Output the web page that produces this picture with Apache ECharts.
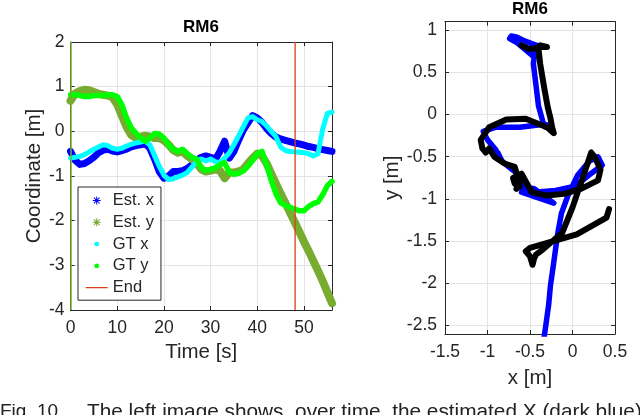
<!DOCTYPE html>
<html lang="en">
<head>
  <meta charset="UTF-8">
  <title>RM6</title>
  <style>
    html, body { margin: 0; padding: 0; background: #fff; }
    #chart { width: 640px; height: 415px; }
  </style>
</head>
<body>
  <div id="chart"></div>
  <script src="https://cdn.jsdelivr.net/npm/echarts@6/dist/echarts.min.js"></script>
  <script>
    // time samples [s]
    var time = [0, 1, 2, 3, 4, 5, 6, 7, 8, 9, 10, 11, 12, 13, 14, 15, 16, 17, 18, 19,
      20, 21, 22, 23, 24, 25, 26, 27, 28, 29, 30, 31, 32, 33, 34, 35, 36, 37, 38, 39,
      40, 41, 42, 43, 44, 45, 46, 47, 48, 49, 50, 51, 52, 53, 54, 55, 56];
    // estimated position [m]
    var estX = [-0.45, -0.65, -0.74, -0.72, -0.66, -0.58, -0.48, -0.42, -0.4, -0.44,
      -0.46, -0.43, -0.4, -0.35, -0.32, -0.3, -0.28, -0.38, -0.62, -0.9,
      -1.05, -1.0, -0.9, -0.9, -0.88, -0.83, -0.75, -0.65, -0.58, -0.55,
      -0.58, -0.63, -0.45, -0.22, -0.6, -0.45, -0.2, 0.03, 0.19, 0.35,
      0.3, 0.2, 0.06, -0.05, -0.13, -0.17, -0.2, -0.23, -0.26, -0.28,
      -0.31, -0.34, -0.36, -0.39, -0.41, -0.43, -0.45];
    var estY = [0.68, 0.85, 0.9, 0.93, 0.92, 0.88, 0.84, 0.82, 0.8, 0.76,
      0.6, 0.35, 0.1, -0.08, -0.15, -0.12, -0.1, -0.12, -0.15, -0.15,
      -0.2, -0.3, -0.42, -0.48, -0.45, -0.55, -0.62, -0.7, -0.85, -0.9,
      -0.88, -0.85, -0.88, -1.05, -0.92, -0.92, -0.9, -0.85, -0.72, -0.6,
      -0.5, -0.55, -0.72, -0.95, -1.17, -1.39, -1.6, -1.82, -2.03, -2.25,
      -2.47, -2.68, -2.9, -3.12, -3.35, -3.6, -3.85];
    // ground truth [m]
    var gtX = [-0.6, -0.58, -0.56, -0.52, -0.46, -0.4, -0.35, -0.3, -0.32, -0.38,
      -0.4, -0.38, -0.33, -0.29, -0.26, -0.24, -0.22, -0.3, -0.55, -0.78,
      -0.98, -1.08, -1.06, -1.02, -0.98, -0.92, -0.8, -0.68, -0.62, -0.66,
      -0.62, -0.68, -0.7, -0.6, -0.48, -0.3, -0.1, 0.1, 0.3, 0.33,
      0.26, 0.22, 0.12, 0.0, -0.12, -0.35, -0.43, -0.45, -0.46, -0.47,
      -0.48, -0.5, -0.55, -0.5, 0.05, 0.4, 0.43];
    var gtY = [0.82, 0.82, 0.8, 0.78, 0.78, 0.8, 0.8, 0.8, 0.82, 0.82,
      0.78, 0.6, 0.3, 0.08, -0.04, -0.15, -0.22, -0.15, -0.05, -0.06,
      -0.15, -0.3, -0.4, -0.45, -0.4, -0.5, -0.58, -0.62, -0.82, -0.88,
      -0.85, -0.82, -0.75, -0.7, -0.92, -0.96, -0.94, -0.88, -0.78, -0.65,
      -0.5, -0.45, -0.75, -1.1, -1.4, -1.6, -1.66, -1.7, -1.74, -1.78,
      -1.78, -1.68, -1.62, -1.58, -1.42, -1.22, -1.12];
    var endTime = 48.1;
    var startTime = 0;
    var seriesNames = ['Est. x', 'Est. y', 'GT x', 'GT y', 'End'];
    var captionLabel = 'Fig. 10.';
    var captionText = 'The left image shows, over time, the estimated X (dark blue)';

    var FONT = '"Liberation Sans", Arial, sans-serif';
    var INK = '#262626';

    function pairs(a, b) {
      return a.map(function (v, i) { return [v, b[i]]; });
    }

    // legend icons (box 22x10, corner specks keep the box size)
    var corners = 'M0,0h0.01v0.01h-0.01z M22,10h-0.01v-0.01h0.01z ';
    var starIcon = 'path://' + corners +
      'M7,4.5H15V5.5H7Z M10.5,1H11.5V9H10.5Z ' +
      'M8.52,1.82L14.18,7.48L13.48,8.18L7.82,2.52Z ' +
      'M7.82,7.48L13.48,1.82L14.18,2.52L8.52,8.18Z';
    var dotIcon = 'path://' + corners + 'M8.6,5A2.4,2.4 0 1 1 13.4,5A2.4,2.4 0 1 1 8.6,5Z';
    var lineIcon = 'path://' + corners + 'M0,4.4H22V5.6H0Z';

    var TICK_FONT = 17.5;
    var NAME_FONT = 20.5;

    function axisBase(extra) {
      var o = {
        axisLine: { show: true, onZero: false, lineStyle: { color: INK, width: 1 } },
        axisTick: { show: true, inside: true, length: 4, lineStyle: { color: INK } },
        axisLabel: { color: INK, fontSize: TICK_FONT, fontFamily: FONT },
        splitLine: { show: true, lineStyle: { color: '#e4e4e4', width: 1 } },
        nameTextStyle: { color: INK, fontSize: NAME_FONT, fontFamily: FONT }
      };
      for (var k in extra) o[k] = extra[k];
      return o;
    }
    function boxAxis(extra) {
      var o = axisBase(extra);
      o.axisLabel = { show: false };
      o.splitLine = { show: false };
      return o;
    }

    var chart = echarts.init(document.getElementById('chart'));
    var option = {
      animation: false,
      backgroundColor: '#fff',
      grid: [
        { left: 70.5, top: 42, width: 261.5, height: 268 },
        { left: 445, top: 21.7, width: 170, height: 312.3 }
      ],
      xAxis: [
        axisBase({ gridIndex: 0, type: 'value', min: 0, max: 56, interval: 10,
          name: 'Time [s]', nameLocation: 'middle', nameGap: 32,
          axisLabel: { color: INK, fontSize: TICK_FONT, fontFamily: FONT, margin: 9, showMaxLabel: false } }),
        boxAxis({ gridIndex: 0, type: 'value', position: 'top', min: 0, max: 56, interval: 10 }),
        axisBase({ gridIndex: 1, type: 'value', min: -1.5, max: 0.5, interval: 0.5,
          name: 'x [m]', nameLocation: 'middle', nameGap: 34,
          axisLabel: { color: INK, fontSize: TICK_FONT, fontFamily: FONT, margin: 9 } }),
        boxAxis({ gridIndex: 1, type: 'value', position: 'top', min: -1.5, max: 0.5, interval: 0.5 })
      ],
      yAxis: [
        axisBase({ gridIndex: 0, type: 'value', min: -4, max: 2, interval: 1,
          name: 'Coordinate [m]', nameLocation: 'middle', nameGap: 26,
          axisLabel: { color: INK, fontSize: TICK_FONT, fontFamily: FONT, margin: 6 } }),
        boxAxis({ gridIndex: 0, type: 'value', position: 'right', min: -4, max: 2, interval: 1 }),
        axisBase({ gridIndex: 1, type: 'value', min: -2.6, max: 1.1, splitNumber: 7,
          name: 'y [m]', nameLocation: 'middle', nameGap: 42,
          axisLabel: { color: INK, fontSize: TICK_FONT, fontFamily: FONT, margin: 8,
            showMinLabel: false, showMaxLabel: false } }),
        boxAxis({ gridIndex: 1, type: 'value', position: 'right', min: -2.6, max: 1.1, splitNumber: 7 })
      ],
      legend: {
        orient: 'vertical',
        left: 78,
        top: 187,
        padding: [5, 7, 4, 7.7],
        itemGap: 4.8,
        itemWidth: 22,
        itemHeight: 10,
        backgroundColor: '#fff',
        borderColor: INK,
        borderWidth: 1,
        borderRadius: 0,
        textStyle: { color: INK, fontSize: 16.5, fontFamily: FONT, lineHeight: 16 },
        data: [
          { name: seriesNames[0], icon: starIcon },
          { name: seriesNames[1], icon: starIcon },
          { name: seriesNames[2], icon: dotIcon },
          { name: seriesNames[3], icon: dotIcon },
          { name: seriesNames[4], icon: lineIcon }
        ]
      },
      series: [
        {
          name: seriesNames[0], type: 'line', xAxisIndex: 0, yAxisIndex: 0,
          data: pairs(time, estX), showSymbol: false, color: '#0000ff',
          lineStyle: { width: 7, cap: 'round', join: 'round' }
        },
        {
          name: seriesNames[1], type: 'line', xAxisIndex: 0, yAxisIndex: 0,
          data: pairs(time, estY), showSymbol: false, color: '#77ac30',
          lineStyle: { width: 8, cap: 'round', join: 'round' },
          markLine: {
            silent: true, symbol: 'none', label: { show: false },
            lineStyle: { color: '#77ac30', width: 1.5, type: 'solid' },
            data: [{ xAxis: startTime }]
          }
        },
        {
          name: seriesNames[2], type: 'line', xAxisIndex: 0, yAxisIndex: 0,
          data: pairs(time, gtX), showSymbol: false, color: '#00ffff',
          lineStyle: { width: 5, cap: 'round', join: 'round' }
        },
        {
          name: seriesNames[3], type: 'line', xAxisIndex: 0, yAxisIndex: 0,
          data: pairs(time, gtY), showSymbol: false, color: '#00ff00',
          lineStyle: { width: 5.5, cap: 'round', join: 'round' }
        },
        {
          name: seriesNames[4], type: 'line', xAxisIndex: 0, yAxisIndex: 0,
          data: [[endTime, -4], [endTime, 2]], showSymbol: false, color: '#d9401a',
          lineStyle: { width: 1.3 }
        },
        // trajectory (right)
        {
          name: 'traj est', type: 'line', xAxisIndex: 2, yAxisIndex: 2,
          data: pairs(estX, estY), showSymbol: false, color: '#0000ff',
          lineStyle: { width: 5.5, cap: 'round', join: 'round' }
        },
        {
          name: 'traj gt', type: 'line', xAxisIndex: 2, yAxisIndex: 2,
          data: pairs(gtX, gtY), showSymbol: false, color: '#000000',
          lineStyle: { width: 6, cap: 'round', join: 'round' }
        }
      ],
      graphic: [
        { type: 'text', x: 201, y: 19, style: { text: 'RM6', font: 'bold 17px ' + FONT, fill: '#000', textAlign: 'center', textVerticalAlign: 'top' } },
        { type: 'text', x: 530, y: 1, style: { text: 'RM6', font: 'bold 17px ' + FONT, fill: '#000', textAlign: 'center', textVerticalAlign: 'top' } },
        { type: 'text', x: 0, y: 402, style: { text: captionLabel, font: '19px ' + FONT, fill: '#222', textAlign: 'left', textVerticalAlign: 'top' } },
        { type: 'text', x: 87, y: 402, style: { text: captionText, font: '20.8px ' + FONT, fill: '#222', textAlign: 'left', textVerticalAlign: 'top' } }
      ]
    };
    chart.setOption(option);
  </script>
</body>
</html>
